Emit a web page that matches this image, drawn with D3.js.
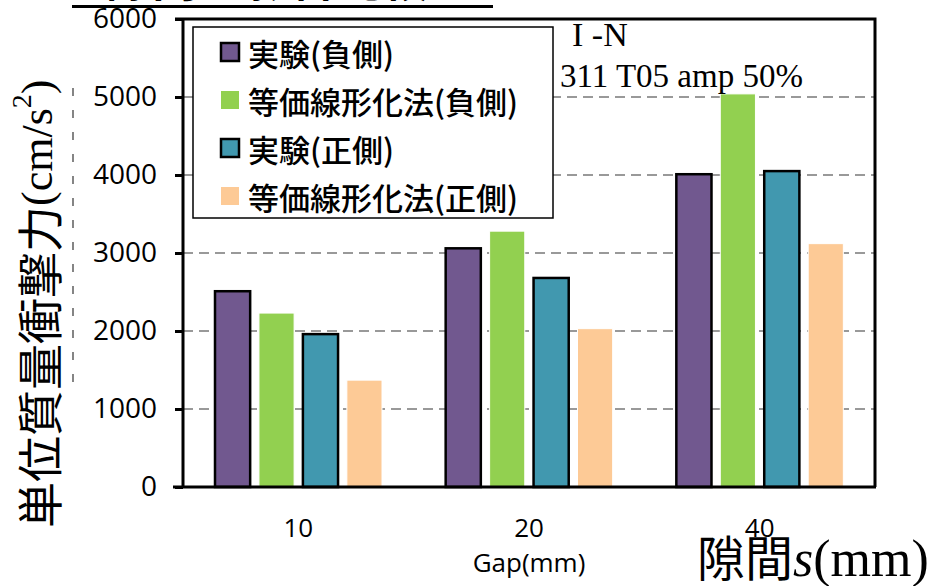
<!DOCTYPE html>
<html><head><meta charset="utf-8">
<script src="https://cdn.jsdelivr.net/npm/d3@7"></script>
<style>body{margin:0;background:#fff}svg{display:block}</style>
</head><body>
<svg id="c" width="945" height="586"></svg>
<script>
const categories = ["10", "20", "40"];
const seriesNames = ["実験(負側)", "等価線形化法(負側)", "実験(正側)", "等価線形化法(正側)"];
const expNeg = [2510, 3060, 4010];
const eqNeg = [2230, 3280, 5040];
const expPos = [1960, 2680, 4050];
const eqPos = [1370, 2030, 3120];
const yTicks = [0, 1000, 2000, 3000, 4000, 5000, 6000];
const seriesValues = [expNeg, eqNeg, expPos, eqPos];
const colors = ["#71588F", "#92D050", "#4198AF", "#FDCA96"];
const outlined = [true, false, true, false];

const svg = d3.select("#c");
const L = 183, R = 875, T = 19, B = 487;
const x0 = d3.scaleBand().domain(categories).range([L, R]);
const x1 = d3.scaleBand().domain(d3.range(4)).range([32, 199]).paddingInner(0.2);
const y = d3.scaleLinear().domain([0, 6000]).range([B, T]);

// partial title at top (mostly cut off in the reference)
svg.append("text").attr("x", 14).attr("y", -4).attr("font-family", "Noto Sans CJK JP")
  .attr("font-size", 46).attr("font-weight", "bold").attr("fill", "#000").text("ペア隙間の影響比較");
svg.append("line").attr("x1", 72).attr("x2", 493).attr("y1", 6.5).attr("y2", 6.5)
  .attr("stroke", "#000").attr("stroke-width", 3);

// gridlines
svg.append("g").selectAll("line").data(yTicks.filter(d => d > 0 && d < 6000)).join("line")
  .attr("x1", L).attr("x2", R).attr("y1", d => y(d)).attr("y2", d => y(d))
  .attr("stroke", "#999").attr("stroke-width", 2.2).attr("stroke-dasharray", "10,6");

// bars
const groups = svg.append("g").selectAll("g").data(categories).join("g")
  .attr("transform", d => `translate(${x0(d)},0)`);
groups.selectAll("rect").data((c, ci) => seriesValues.map((s, si) => ({si, v: s[ci]}))).join("rect")
  .attr("x", d => x1(d.si)).attr("width", x1.bandwidth())
  .attr("y", d => y(d.v)).attr("height", d => B - y(d.v))
  .attr("fill", d => colors[d.si])
  .attr("stroke", d => outlined[d.si] ? "#000" : "#fff")
  .attr("stroke-width", d => outlined[d.si] ? 2.5 : 1);

// plot border (top, right)
svg.append("path").attr("d", `M${L - 8},${T}H${R}V${B}`).attr("fill", "none")
  .attr("stroke", "#000").attr("stroke-width", 3);

// y axis
const yAxis = svg.append("g").attr("transform", `translate(${L},0)`)
  .call(d3.axisLeft(y).tickValues(yTicks).tickSize(8).tickPadding(18).tickFormat(d3.format("d")));
yAxis.select(".domain").attr("stroke-width", 3).attr("d", `M0,${T}V${B}`);
yAxis.selectAll(".tick line").attr("stroke-width", 3);
yAxis.selectAll(".tick text").attr("font-family", "Open Sans").attr("font-size", 28).attr("fill", "#000");

// x axis
const xAxis = svg.append("g").attr("transform", `translate(0,${B})`)
  .call(d3.axisBottom(x0).tickSize(0).tickPadding(32));
xAxis.select(".domain").attr("stroke-width", 3).attr("d", `M${L - 10},0H${R + 1}`);
xAxis.selectAll(".tick text").attr("font-family", "Open Sans").attr("font-size", 26).attr("fill", "#000");

svg.append("text").attr("x", x0("20") + x0.bandwidth() / 2).attr("y", 572).attr("text-anchor", "middle")
  .attr("font-family", "Open Sans").attr("font-size", 26).attr("fill", "#000").text("Gap(mm)");

// legend
const lg = svg.append("g");
lg.append("rect").attr("x", 193).attr("y", 27).attr("width", 360).attr("height", 191)
  .attr("fill", "#fff").attr("stroke", "#000").attr("stroke-width", 1.5);
const items = lg.selectAll("g").data(seriesNames).join("g")
  .attr("transform", (d, i) => `translate(0,${52 + i * 48})`);
items.append("rect").attr("x", 221).attr("y", -9).attr("width", 18).attr("height", 18)
  .attr("fill", (d, i) => colors[i])
  .attr("stroke", (d, i) => outlined[i] ? "#000" : "none").attr("stroke-width", 2.5);
items.append("text").attr("x", 248).attr("y", 0).attr("dominant-baseline", "central")
  .attr("font-family", "Noto Sans CJK JP").attr("font-weight", 500).attr("font-size", 31).attr("fill", "#000").text(d => d);

// annotation
svg.append("text").attr("x", 572).attr("y", 46).attr("font-family", "Liberation Serif")
  .attr("font-size", 34).attr("fill", "#000").text("I -N");
svg.append("text").attr("x", 560).attr("y", 87).attr("font-family", "Liberation Serif")
  .attr("font-size", 33).attr("fill", "#000").text("311 T05 amp 50%");

// y label
const yl = svg.append("text").attr("transform", "translate(37,528) rotate(-90)")
  .attr("dominant-baseline", "central").attr("fill", "#000");
yl.append("tspan").attr("font-family", "Noto Sans CJK JP").attr("font-size", 46).text("単位質量衝撃力");
yl.append("tspan").attr("font-family", "Liberation Serif").attr("font-size", 44).text("(cm/s");
yl.append("tspan").attr("font-family", "Liberation Serif").attr("font-size", 28).attr("dy", -16).text("2");
yl.append("tspan").attr("font-family", "Liberation Serif").attr("font-size", 44).attr("dy", 16).text(")");

// dashed artifact
svg.append("line").attr("x1", 73).attr("x2", 73).attr("y1", 88).attr("y2", 385)
  .attr("stroke", "#444").attr("stroke-width", 1.3).attr("stroke-dasharray", "8,14");

// x label bottom right
const xl = svg.append("text").attr("x", 697).attr("y", 576).attr("fill", "#000");
xl.append("tspan").attr("font-family", "Noto Sans CJK JP").attr("font-size", 48).text("隙間");
xl.append("tspan").attr("font-family", "Liberation Serif").attr("font-style", "italic").attr("font-size", 52).text("s");
xl.append("tspan").attr("font-family", "Liberation Serif").attr("font-size", 52).text("(mm)");
</script>
</body></html>
